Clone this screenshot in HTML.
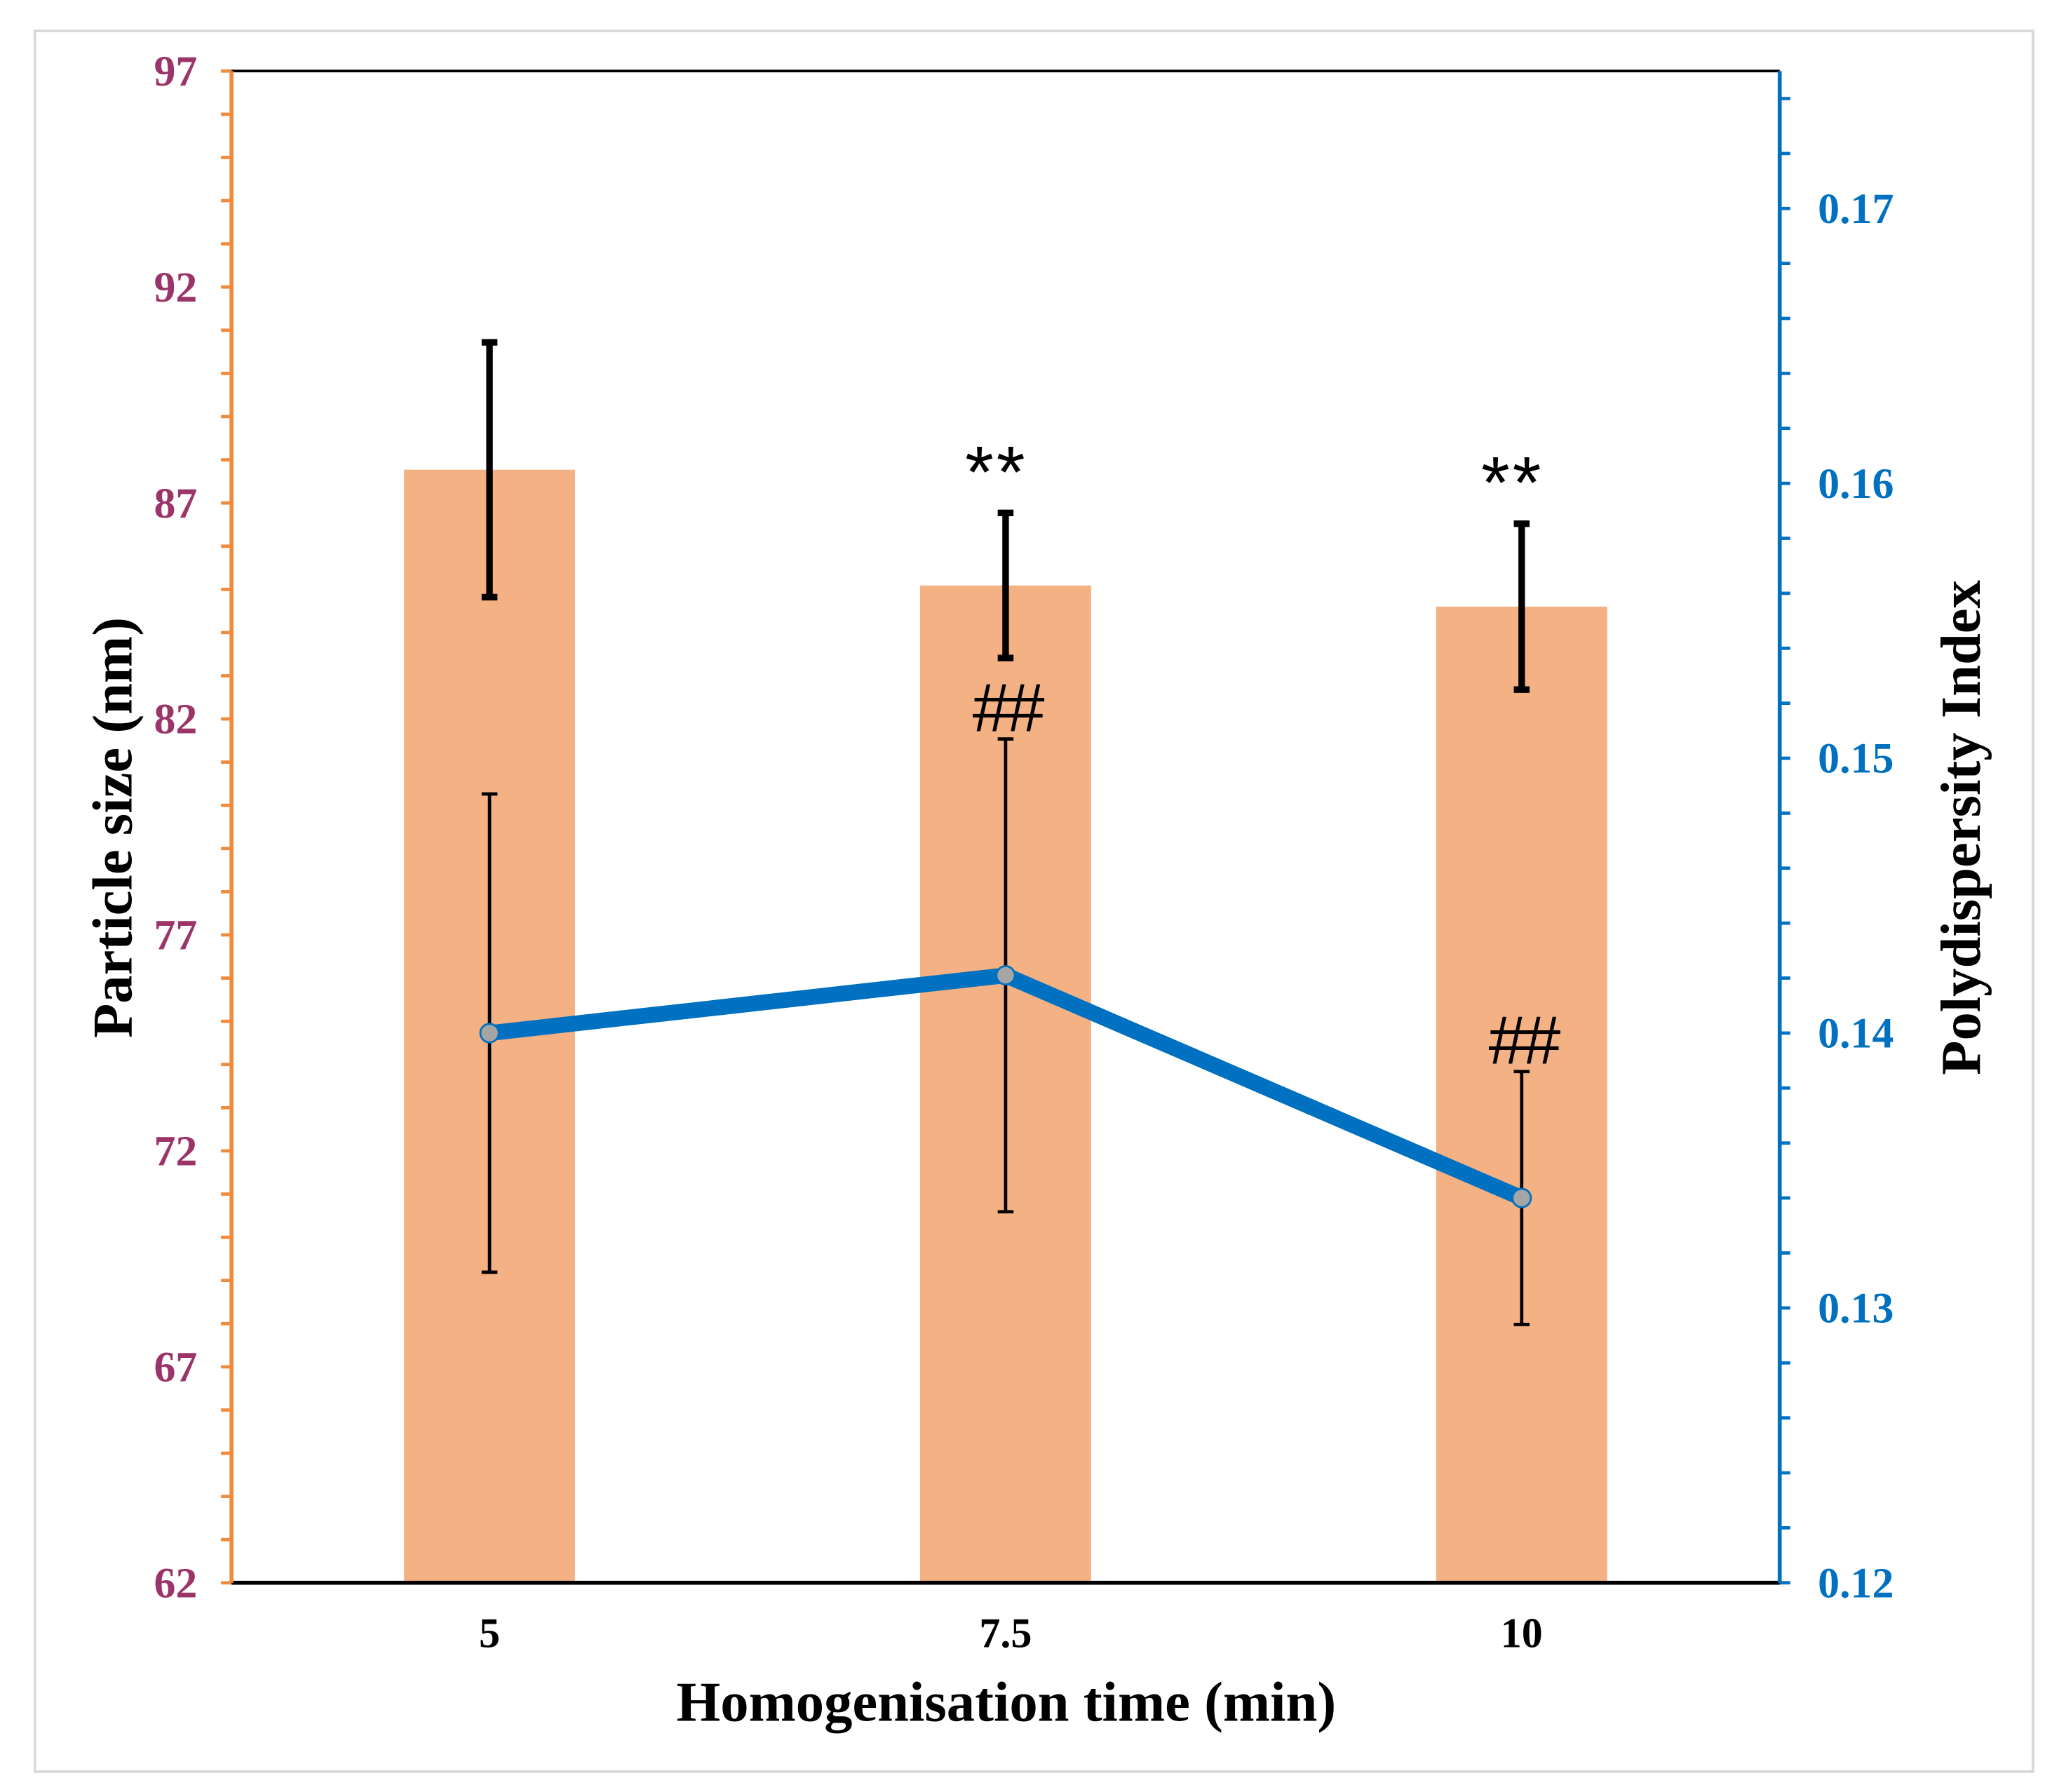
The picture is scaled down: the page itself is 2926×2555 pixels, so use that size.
<!DOCTYPE html>
<html><head><meta charset="utf-8"><style>
html,body{margin:0;padding:0;background:#fff;}
svg{display:block;}
text{font-family:"Liberation Serif",serif;font-weight:bold;}
</style></head><body>
<svg id="chart" width="2926" height="2555" viewBox="0 0 1560 1362" preserveAspectRatio="none" xmlns="http://www.w3.org/2000/svg">
<rect x="26.5" y="23.5" width="1519" height="1323" fill="#fff" stroke="#d9d9d9" stroke-width="2"/>
<g id="g"></g>
</svg>
<script>
const categories = ["5", "7.5", "10"];
const sizeValues = [87.77, 85.09, 84.6];
const sizeErrors = [2.95, 1.68, 1.92];
const pdiValues = [0.140, 0.1421, 0.1340];
const pdiErrors = [0.0087, 0.0086, 0.0046];
const starLabels = ["", "**", "**"];
const hashLabels = ["", "##", "##"];
const leftTicks = [62, 67, 72, 77, 82, 87, 92, 97];
const rightTicks = [0.12, 0.13, 0.14, 0.15, 0.16, 0.17];

const X0 = 176, X1 = 1353, Y0 = 54, Y1 = 1203;
const L_MIN = 62, L_MAX = 97, R_MIN = 0.12, R_MAX = 0.175;
const band = (X1 - X0) / categories.length;
const xc = i => X0 + band * (i + 0.5);
const yL = v => Y1 - (v - L_MIN) / (L_MAX - L_MIN) * (Y1 - Y0);
const yR = v => Y1 - (v - R_MIN) / (R_MAX - R_MIN) * (Y1 - Y0);
const NS = "http://www.w3.org/2000/svg";
const g = document.getElementById('g');
function mk(tag, attrs, parent) {
  const e = document.createElementNS(NS, tag);
  for (const k in attrs) e.setAttribute(k, attrs[k]);
  (parent || g).appendChild(e);
  return e;
}
function txt(s, attrs) { const t = mk('text', attrs); t.textContent = s; return t; }

categories.forEach((c, i) => {
  const r = mk('rect', {x: xc(i) - 65, y: yL(sizeValues[i]), width: 130, height: Y1 - yL(sizeValues[i]), fill: '#f4b183'});
  
  
});
categories.forEach((c, i) => {
  const x = xc(i), t = yL(sizeValues[i] + sizeErrors[i]), b = yL(sizeValues[i] - sizeErrors[i]);
  const p = mk('path', {d: `M${x},${t}V${b}M${x-6},${t}H${x+6}M${x-6},${b}H${x+6}`, stroke: '#000', 'stroke-width': 5, fill: 'none'});
  
  
});
categories.forEach((c, i) => {
  const x = xc(i), t = yR(pdiValues[i] + pdiErrors[i]), b = yR(pdiValues[i] - pdiErrors[i]);
  const p = mk('path', {d: `M${x},${t}V${b}M${x-6},${t}H${x+6}M${x-6},${b}H${x+6}`, stroke: '#000', 'stroke-width': 2.5, fill: 'none'});
  
  
});
const pdiLine = mk('polyline', {points: pdiValues.map((v, i) => xc(i) + ',' + yR(v)).join(' '), fill: 'none', stroke: '#0070c0', 'stroke-width': 12, 'stroke-linejoin': 'round'});


pdiValues.forEach((v, i) => {
  const m = mk('circle', {cx: xc(i), cy: yR(v), r: 7, fill: '#a5a5a5', stroke: '#0070c0', 'stroke-width': 1.5});
  
  
});
categories.forEach((c, i) => {
  if (starLabels[i]) {
    const t = txt(starLabels[i], {x: xc(i) - 7, y: yL(sizeValues[i] + sizeErrors[i]) - 12, 'text-anchor': 'middle', 'font-size': 56, style: 'font-family:"Liberation Sans",sans-serif;font-weight:normal;letter-spacing:2px'});
    
    
  }
  if (hashLabels[i]) {
    const t = txt(hashLabels[i], {x: xc(i), y: yR(pdiValues[i] + pdiErrors[i]) - 6, 'text-anchor': 'middle', 'font-size': 52, style: 'font-family:"Liberation Sans",sans-serif;font-weight:normal;font-style:italic;letter-spacing:-3px'});
    
    
  }
});
const plotTop = mk('line', {x1: X0, y1: Y0, x2: X1, y2: Y0, stroke: '#000', 'stroke-width': 2});


const xAxis = mk('line', {x1: X0, y1: Y1, x2: X1, y2: Y1, stroke: '#000', 'stroke-width': 3});


const leftAxis = mk('line', {x1: X0, y1: Y0, x2: X0, y2: Y1, stroke: '#f08a3c', 'stroke-width': 3});


const rightAxis = mk('line', {x1: X1, y1: Y0, x2: X1, y2: Y1, stroke: '#0070c0', 'stroke-width': 3});


for (let v = L_MIN; v <= L_MAX + 1e-9; v += 1) {
  mk('line', {x1: X0 - 8, y1: yL(v), x2: X0, y2: yL(v), stroke: '#f08a3c', 'stroke-width': 2.5});
}
leftTicks.forEach(v => {
  const t = txt(String(v), {x: X0 - 26, y: yL(v) + 11, 'text-anchor': 'end', 'font-size': 33, fill: '#9b3468'});
  
  
});
for (let k = 0; k <= 27; k++) {
  const v = R_MIN + k * 0.002;
  mk('line', {x1: X1, y1: yR(v), x2: X1 + 8, y2: yR(v), stroke: '#0070c0', 'stroke-width': 2.5});
}
rightTicks.forEach(v => {
  const t = txt(v.toFixed(2), {x: X1 + 29, y: yR(v) + 11, 'text-anchor': 'start', 'font-size': 33, fill: '#0070c0'});
  
  
});
categories.forEach((c, i) => {
  const t = txt(c, {x: xc(i), y: 1252, 'text-anchor': 'middle', 'font-size': 32, fill: '#000'});
  
  
});
const xTitle = txt('Homogenisation time (min)', {x: 765, y: 1308, 'text-anchor': 'middle', 'font-size': 43, fill: '#000'});


const leftTitle = txt('Particle size (nm)', {x: 0, y: 0, 'text-anchor': 'middle', 'font-size': 43, fill: '#000', transform: 'translate(100,629) rotate(-90)'});


const rightTitle = txt('Polydispersity Index', {x: 0, y: 0, 'text-anchor': 'middle', 'font-size': 43, fill: '#000', transform: 'translate(1505,629) rotate(-90)'});


</script>
</body></html>
